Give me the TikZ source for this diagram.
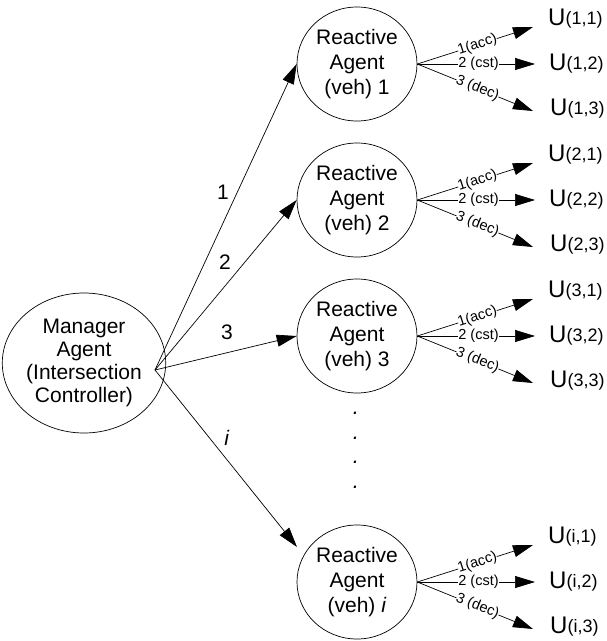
\documentclass[tikz,border=0pt]{standalone}
\usepackage{fontspec}
\setmainfont{Liberation Sans}
\usetikzlibrary{arrows.meta,shapes.geometric}
\newcommand\ulabel[1]{{\fontsize{24}{24}\selectfont U}\raisebox{1pt}{\fontsize{18}{18}\selectfont(#1)}}
\begin{document}
\begin{tikzpicture}[x=1pt,y=-1pt,
  agent/.style={draw, ellipse, minimum width=120pt, minimum height=114pt, inner sep=0pt, align=center, font=\fontsize{21}{25}\selectfont, line width=0.7pt},
  arr/.style={-{Triangle[length=20pt,width=12pt]}, line width=0.7pt},
  lab/.style={font=\fontsize{14.5}{14.5}\selectfont, fill=white, inner sep=0pt, sloped},
  num/.style={font=\fontsize{21}{21}\selectfont, inner sep=0pt},
  ulab/.style={anchor=west, inner sep=0pt},
  dotlab/.style={font=\itshape\fontsize{22}{22}\selectfont, inner sep=0pt}
]
\useasboundingbox (0,0) rectangle (607,641);
\node[agent, minimum width=143pt, minimum height=140pt, font=\fontsize{21}{23}\selectfont] (m) at (84,363) {Manager\\Agent\\(Intersection\\Controller)};
\coordinate (ms) at (155,370);

\foreach \k/\y/\t in {1/64/1, 2/200/2, 3/336/3, i/582/\textit{i}} {
  \node[agent] (a\k) at (357,\y) {Reactive\\Agent\\(veh) \t};
  \coordinate (t\k1) at (533,\y-37);
  \coordinate (t\k2) at (535,\y);
  \coordinate (t\k3) at (533,\y+47);
  \draw[arr] (a\k.east) -- node[lab,pos=0.52]{1(acc)} (t\k1);
  \draw[arr] (a\k.east) -- node[lab,pos=0.52]{2 (cst)} (t\k2);
  \draw[arr] (a\k.east) -- node[lab,pos=0.52]{3 (dec)} (t\k3);
  \node[ulab] (u\k1) at (548,\y-45) {\ulabel{\k,1}};
  \node[ulab] (u\k2) at (549,\y) {\ulabel{\k,2}};
  \node[ulab] (u\k3) at (550,\y+45) {\ulabel{\k,3}};
}

\coordinate (ti) at (297,547);
\draw[arr] (ms) -- (a1.west);
\draw[arr] (ms) -- (a2.west);
\draw[arr] (ms) -- (a3.west);
\draw[arr] (ms) -- (ti);

\node[num] (n1) at (223,192) {1};
\node[num] (n2) at (225,262) {2};
\node[num] (n3) at (227,332) {3};
\node[num] (n4) at (227,438) {\textit{i}};

\foreach \j/\y in {1/413,2/438,3/462,4/487}
  \node[dotlab] (d\j) at (356,\y) {.};
\end{tikzpicture}
\end{document}
